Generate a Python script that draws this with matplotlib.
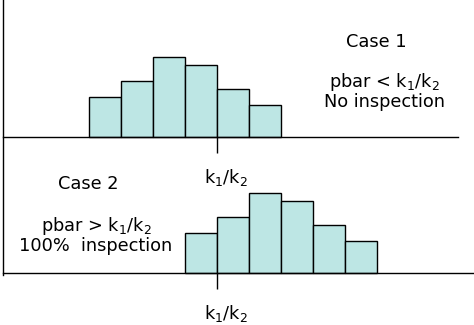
import matplotlib
matplotlib.use('Agg')
import matplotlib.pyplot as plt

plt.rcParams['font.family'] = ['DejaVu Sans']
plt.rcParams['mathtext.default'] = 'regular'

# histogram bins (bin index) and counts
bins_case1 = [0, 1, 2, 3, 4, 5]
bins_case2 = [3, 4, 5, 6, 7, 8]
counts = [5, 7, 10, 9, 6, 4]
k_ratio = 4  # position of k1/k2
k_label = 'k$_1$/k$_2$'

bar_color = '#bde6e4'
W, H = 474, 325
fs = 12.8

fig = plt.figure(figsize=(W / 100, H / 100), dpi=100)


def px_axes(x0, y0, x1, y1):
    # axes from pixel box (top-left origin)
    return fig.add_axes([x0 / W, 1 - y1 / H, (x1 - x0) / W, (y1 - y0) / H])


# pixel scale: 1 bin = 32 px, 1 count = 8 px, bin 0 left edge at x=89
def xlim_px(x0, x1):
    return ((x0 - 89) / 32, (x1 - 89) / 32)


# top axes spans the full height so its left spine is the one vertical line
ax1 = px_axes(3, 0, 473, 275)
ax1.set_xlim(*xlim_px(3, 473))
ax1.set_ylim(-(275 - 137) / 8, 137 / 8)
ax2 = px_axes(3, 150, 473, 275)
ax2.set_xlim(*xlim_px(3, 473))
ax2.set_ylim(-(275 - 273) / 8, (273 - 150) / 8)

for ax, bins, right in [(ax1, bins_case1, 458), (ax2, bins_case2, 473)]:
    ax.bar(bins, counts, width=1, align='edge', color=bar_color,
           edgecolor='black', linewidth=1.0, zorder=2)
    for s in ['top', 'right']:
        ax.spines[s].set_visible(False)
    ax.spines['bottom'].set_position(('data', 0))
    ax.spines['bottom'].set_bounds(xlim_px(3, right)[0], xlim_px(3, right)[1])
    for s in ['left', 'bottom']:
        ax.spines[s].set_linewidth(1.0)
        ax.spines[s].set_zorder(3)
    ax.set_yticks([])
    ax.set_xticks([k_ratio])
    ax.set_xticklabels([''])
    ax.tick_params(axis='x', direction='out', length=11.5, width=1.0)
    ax.patch.set_alpha(0)
    ax.annotate(k_label, xy=(k_ratio, 0), xytext=(9, -41),
                textcoords='offset pixels', ha='center', va='center',
                fontsize=fs, annotation_clip=False)
ax2.spines['left'].set_visible(False)

fig.text(376 / W, 1 - 42 / H, 'Case 1', ha='center', va='center', fontsize=fs)
fig.text(384 / W, 1 - 91 / H, 'pbar < k$_1$/k$_2$\nNo inspection',
         ha='center', va='center', fontsize=fs, linespacing=0.95)

fig.text(88 / W, 1 - 184 / H, 'Case 2', ha='center', va='center', fontsize=fs)
fig.text(96 / W, 1 - 235 / H, 'pbar > k$_1$/k$_2$\n100%  inspection',
         ha='center', va='center', fontsize=fs, linespacing=0.95)

fig.savefig('out.png', dpi=100)
